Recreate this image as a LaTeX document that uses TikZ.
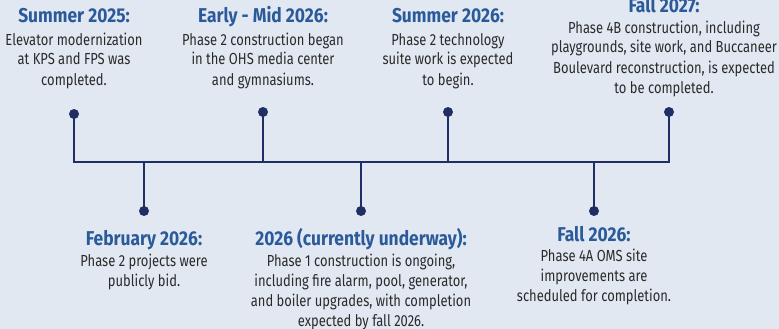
\documentclass[tikz,border=0pt]{standalone}
\usepackage{fontspec}
\setmainfont[FakeStretch=0.81]{Fira Sans}
\newfontfamily\ttlfont[FakeStretch=0.87]{Fira Sans}
\definecolor{bg}{HTML}{E2E8F2}
\definecolor{navy}{HTML}{1F2F63}
\definecolor{ttl}{HTML}{2B5A9A}
\definecolor{bodyc}{HTML}{2A2A2A}
\tikzset{
  x=1pt,y=-1pt,
  dot/.style={circle,fill=navy,inner sep=0pt,minimum size=10pt},
  stem/.style={draw=navy,line width=1.8pt,line join=miter},
  ttlnode/.style={anchor=base,inner sep=0pt,text=ttl,font=\ttlfont\fontsize{20}{22}\selectfont\bfseries},
  bodynode/.style={anchor=base,inner sep=0pt,align=center,text=bodyc,font=\fontsize{16}{20}\selectfont},
}
\begin{document}
\begin{tikzpicture}
\fill[bg] (0,0) rectangle (779,329);
\useasboundingbox (0,0) rectangle (779,329);
% dots
\node[dot] (d1) at (74,114) {};
\node[dot] (d2) at (144,211) {};
\node[dot] (d3) at (263,112) {};
\node[dot] (d4) at (361,211) {};
\node[dot] (d5) at (448,112) {};
\node[dot] (d6) at (594,211) {};
\node[dot] (d7) at (669,112) {};
\coordinate (l) at (74,162);
\coordinate (r) at (669,162);
\coordinate (j2) at (144,162);
\coordinate (j3) at (263,162);
\coordinate (j4) at (361,162);
\coordinate (j5) at (448,162);
\coordinate (j6) at (594,162);
\draw[stem] (d1.center) -- (l) -- (r) -- (d7.center);
\draw[stem] (j2) -- (d2.center);
\draw[stem] (j3) -- (d3.center);
\draw[stem] (j4) -- (d4.center);
\draw[stem] (j5) -- (d5.center);
\draw[stem] (j6) -- (d6.center);
% texts (body anchor = baseline of last line)
\node[ttlnode] (t1) at (74,23) {Summer 2025:};
\node[bodynode] (b1) at (74,85) {Elevator modernization\\at KPS and FPS was\\completed.};
\node[ttlnode] (t3) at (263,23) {Early - Mid 2026:};
\node[bodynode] (b3) at (263,85) {Phase 2 construction began\\in the OHS media center\\and gymnasiums.};
\node[ttlnode] (t5) at (448,23) {Summer 2026:};
\node[bodynode] (b5) at (448,85) {Phase 2 technology\\suite work is expected\\to begin.};
\node[ttlnode] (t7) at (664,13) {Fall 2027:};
\node[bodynode] (b7) at (664,93) {Phase 4B construction, including\\playgrounds, site work, and Buccaneer\\Boulevard reconstruction, is expected\\to be completed.};
\node[ttlnode] (t2) at (144,245) {February 2026:};
\node[bodynode] (b2) at (144,286) {Phase 2 projects were\\publicly bid.};
\node[ttlnode] (t4) at (361,245) {2026 (currently underway):};
\node[bodynode] (b4) at (361,326) {Phase 1 construction is ongoing,\\including fire alarm, pool, generator,\\and boiler upgrades, with completion\\expected by fall 2026.};
\node[ttlnode] (t6) at (594,241) {Fall 2026:};
\node[bodynode] (b6) at (594,301) {Phase 4A OMS site\\improvements are\\scheduled for completion.};
\end{tikzpicture}
\end{document}
